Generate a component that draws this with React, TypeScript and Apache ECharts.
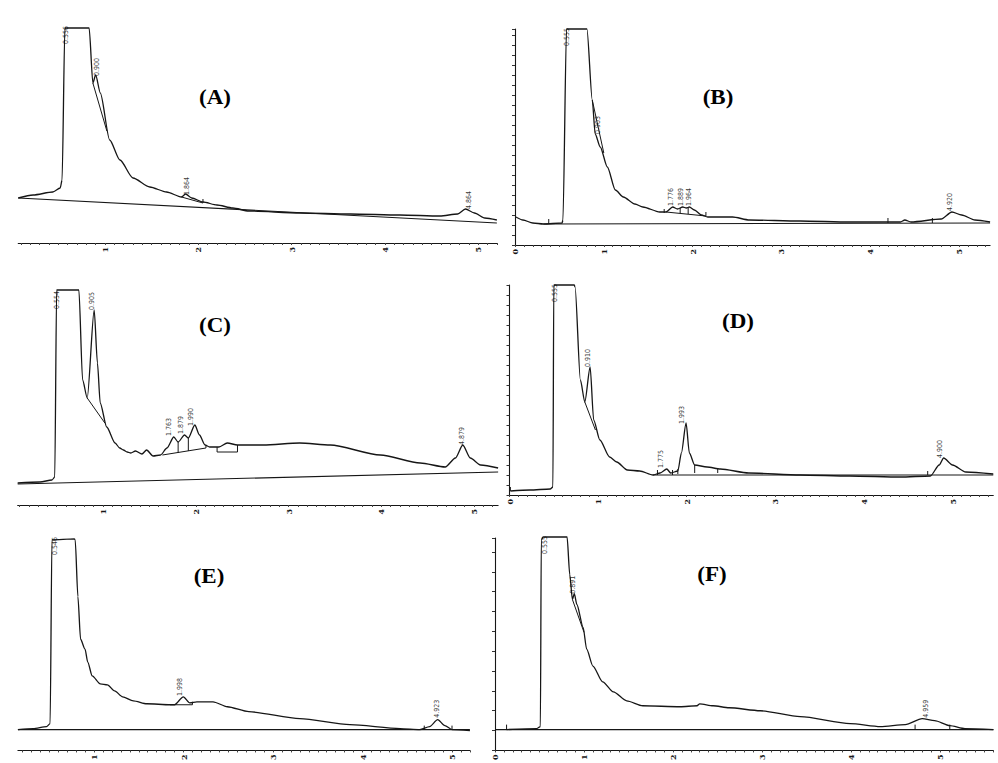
import React, { useEffect, useRef } from "react";
import * as echarts from "echarts";

// ---------- tick labels ----------
const ticksA = [1, 2, 3, 4, 5];
const ticksB = [0, 1, 2, 3, 4, 5];
const ticksC = [1, 2, 3, 4, 5];
const ticksD = [0, 1, 2, 3, 4, 5];
const ticksE = [1, 2, 3, 4, 5];
const ticksF = [0, 1, 2, 3, 4, 5];

// ---------- traces: [time (min), signal] ----------
const traceA = [
  [0.07, 45], [0.23, 48], [0.44, 51], [0.52, 55], [0.54, 63], [0.57, 215], [0.83, 215],
  [0.87, 160], [0.9, 168], [0.95, 150], [1.05, 103], [1.16, 83], [1.3, 65], [1.48, 56],
  [1.66, 51], [1.82, 46], [1.864, 49], [1.93, 45], [2.05, 41], [2.2, 38], [2.37, 35],
  [2.54, 32], [3.09, 30], [3.63, 29], [4.16, 28], [4.59, 27], [4.78, 29], [4.864, 34],
  [4.96, 30], [5.07, 25], [5.2, 23],
];
const traceB = [
  [0.01, 28], [0.09, 25], [0.2, 22], [0.32, 21], [0.53, 22], [0.54, 25], [0.58, 216],
  [0.81, 216], [0.87, 145], [0.903, 111], [0.96, 98], [1.04, 78], [1.13, 55], [1.22, 48],
  [1.35, 41], [1.44, 38], [1.63, 33], [1.7, 33], [1.776, 38], [1.83, 36], [1.889, 38],
  [1.93, 37], [1.964, 38], [2.02, 35], [2.1, 30], [2.17, 28], [2.45, 28], [2.64, 25],
  [3.21, 24], [3.77, 23], [4.22, 23], [4.34, 23], [4.39, 25], [4.46, 23], [4.8, 26],
  [4.92, 33], [5.03, 30], [5.18, 25], [5.35, 23],
];
const traceC = [
  [0.08, 22], [0.32, 23], [0.45, 25], [0.48, 28], [0.5, 215], [0.74, 215], [0.78, 125],
  [0.83, 107], [0.905, 195], [0.94, 142], [0.97, 102], [1.04, 78], [1.13, 62], [1.18, 57],
  [1.22, 55], [1.26, 53], [1.3, 52], [1.35, 54], [1.42, 51], [1.47, 55], [1.54, 49],
  [1.62, 50], [1.69, 57], [1.763, 68], [1.81, 63], [1.879, 70], [1.92, 67], [1.99, 80],
  [2.04, 70], [2.1, 60], [2.15, 58], [2.25, 58], [2.34, 62], [2.45, 60], [2.73, 60],
  [3.12, 62], [3.45, 60], [3.99, 50], [4.42, 42], [4.69, 38], [4.8, 47], [4.879, 60],
  [4.96, 47], [5.07, 40], [5.26, 37],
];
const traceD = [
  [0.01, 4], [0.23, 5], [0.46, 6], [0.49, 8], [0.5, 210], [0.73, 210], [0.74, 208],
  [0.8, 115], [0.85, 93], [0.91, 128], [0.95, 75], [1.02, 55], [1.13, 38], [1.21, 33],
  [1.33, 25], [1.47, 24], [1.62, 20], [1.7, 22], [1.775, 26], [1.82, 22], [1.9, 24],
  [1.94, 42], [1.993, 72], [2.03, 42], [2.09, 30], [2.23, 28], [2.38, 26], [2.7, 22],
  [3.28, 20], [3.84, 19], [4.41, 18], [4.75, 19], [4.85, 30], [4.9, 37], [5.0, 30],
  [5.15, 23], [5.46, 21],
];
const traceE = [
  [0.15, 21], [0.32, 22], [0.47, 24], [0.51, 27], [0.53, 212], [0.78, 213], [0.79, 212],
  [0.82, 155], [0.85, 112], [0.9, 102], [0.93, 89], [0.98, 75], [1.07, 67], [1.15, 66],
  [1.23, 60], [1.32, 54], [1.44, 50], [1.59, 47], [1.85, 46], [1.9, 46], [1.998, 54],
  [2.07, 48], [2.15, 49], [2.33, 49], [2.49, 44], [2.73, 39], [3.3, 32], [3.86, 26],
  [4.42, 22], [4.64, 21], [4.75, 24], [4.84, 31], [4.92, 25], [5.0, 21], [5.2, 20],
];
const traceF = [
  [0.13, 21], [0.47, 22], [0.51, 24], [0.52, 212], [0.54, 215], [0.81, 215], [0.84, 177],
  [0.87, 152], [0.891, 158], [0.92, 147], [0.99, 124], [1.03, 102], [1.1, 85], [1.21, 69],
  [1.33, 59], [1.48, 50], [1.66, 45], [2.08, 44], [2.27, 45], [2.3, 47], [2.45, 45],
  [2.63, 43], [2.98, 40], [3.43, 34], [3.99, 27], [4.33, 24], [4.61, 26], [4.8, 32],
  [4.94, 30], [5.11, 25], [5.28, 22], [5.6, 21],
];

// ---------- integration baselines ----------
const baseA = [[0.07, 45], [5.2, 20]];
const baseB = [[0.32, 21], [5.35, 22]];
const baseC = [[0.08, 21], [5.26, 33]];
const baseD = [[1.62, 20], [5.46, 20]];
const baseE = [[0.15, 21], [5.2, 21]];
const baseF = [[0.0, 21], [5.6, 21]];

// ---------- integration marks (skims, drop lines, event ticks) ----------
const marksA = [
  [[0.87, 160], [1.02, 112]],
  [[1.82, 46], [2.05, 40]],
  [[2.05, 40], [2.05, 44]],
];
const marksB = [
  [[0.38, 21], [0.38, 26]],
  [[0.87, 145], [1.0, 92]],
  [[1.68, 32], [1.68, 36]],
  [[1.7, 33], [2.15, 29]],
  [[1.86, 32], [1.86, 37]],
  [[1.95, 31], [1.95, 37]],
  [[2.15, 29], [2.15, 33]],
  [[4.2, 22], [4.2, 27]],
  [[4.7, 22], [4.7, 27]],
];
const marksC = [
  [[0.83, 107], [1.02, 82]],
  [[1.64, 50], [2.11, 57]],
  [[1.81, 52], [1.81, 63]],
  [[1.92, 54], [1.92, 67]],
  [[2.11, 57], [2.11, 59]],
  [[2.23, 58], [2.23, 53], [2.45, 53], [2.45, 60]],
];
const marksD = [
  [[0.01, 4], [0.01, 8]],
  [[0.85, 93], [0.97, 65]],
  [[1.67, 20], [1.67, 25]],
  [[1.84, 20], [1.84, 25]],
  [[1.9, 21], [1.9, 26]],
  [[2.09, 22], [2.09, 30]],
  [[2.35, 22], [2.35, 27]],
  [[4.72, 20], [4.72, 24]],
];
const marksE = [
  [[1.85, 46], [2.1, 46]],
  [[2.1, 46], [2.1, 49]],
  [[4.69, 21], [4.69, 25]],
  [[5.0, 21], [5.0, 25]],
];
const marksF = [
  [[0.13, 21], [0.13, 26]],
  [[0.87, 152], [1.0, 119]],
  [[4.72, 21], [4.72, 26]],
  [[5.11, 21], [5.11, 26]],
];

// ---------- peak labels: [time, signal, text] ----------
const peaksA = [[0.58, 208, "0.556"], [0.915, 176, "0.900"], [1.88, 57, "1.864"], [4.9, 43, "4.864"]];
const peaksB = [[0.585, 208, "0.555"], [0.93, 120, "0.903"], [1.755, 48, "1.776"], [1.87, 48, "1.889"], [1.96, 48, "1.964"], [4.9, 43, "4.920"]];
const peaksC = [[0.5, 205, "0.554"], [0.88, 204, "0.905"], [1.71, 78, "1.763"], [1.84, 80, "1.879"], [1.95, 88, "1.990"], [4.87, 69, "4.879"]];
const peaksD = [[0.51, 202, "0.555"], [0.885, 137, "0.910"], [1.71, 36, "1.775"], [1.95, 80, "1.993"], [4.86, 46, "4.900"]];
const peaksE = [[0.56, 206, "0.546"], [1.96, 64, "1.998"], [4.83, 42, "4.923"]];
const peaksF = [[0.56, 207, "0.555"], [0.88, 167, "0.891"], [4.84, 42, "4.959"]];

const titles = ["(A)", "(B)", "(C)", "(D)", "(E)", "(F)"];

// ---------- layout (pixels) ----------
const panels = [
  { x0: 11.7, ppm: 93.3, tmin: 0.07, tmax: 5.2, axisY: 243, yMax: 220, yAxis: false, yInt: 10, ticks: ticksA, trace: traceA, base: baseA, marks: marksA, peaks: peaksA, tx: 215, ty: 98 },
  { x0: 515, ppm: 88.8, tmin: 0, tmax: 5.35, axisY: 245, yMax: 216, yAxis: true, yInt: 10, ticks: ticksB, trace: traceB, base: baseB, marks: marksB, peaks: peaksB, tx: 718, ty: 98 },
  { x0: 10.25, ppm: 92.75, tmin: 0.08, tmax: 5.26, axisY: 505, yMax: 220, yAxis: false, yInt: 10, ticks: ticksC, trace: traceC, base: baseC, marks: marksC, peaks: peaksC, tx: 215, ty: 326 },
  { x0: 509.5, ppm: 88.6, tmin: 0, tmax: 5.46, axisY: 495, yMax: 210, yAxis: true, yInt: 10, ticks: ticksD, trace: traceD, base: baseD, marks: marksD, peaks: peaksD, tx: 738, ty: 322 },
  { x0: 4.5, ppm: 89.5, tmin: 0.15, tmax: 5.2, axisY: 752, yMax: 220, yAxis: false, yInt: 10, ticks: ticksE, trace: traceE, base: baseE, marks: marksE, peaks: peaksE, tx: 209, ty: 577 },
  { x0: 495, ppm: 89, tmin: 0, tmax: 5.6, axisY: 752, yMax: 214, yAxis: true, yInt: 20, ticks: ticksF, trace: traceF, base: baseF, marks: marksF, peaks: peaksF, tx: 712, ty: 575 },
];

const INK = "#161616";

function minorTicks(a: number, b: number) {
  const out: number[] = [];
  for (let v = Math.ceil(a * 10); v <= Math.floor(b * 10); v++) out.push(v / 10);
  return out;
}

function buildOption() {
  const grid: any[] = [];
  const xAxis: any[] = [];
  const yAxis: any[] = [];
  const series: any[] = [];
  const graphic: any[] = [];
  panels.forEach((p, i) => {
    grid.push({
      left: p.x0 + p.tmin * p.ppm,
      top: p.axisY - p.yMax,
      width: (p.tmax - p.tmin) * p.ppm,
      height: p.yMax,
      containLabel: false,
    });
    xAxis.push({
      type: "value",
      gridIndex: i,
      min: p.tmin,
      max: p.tmax,
      splitLine: { show: false },
      axisLine: { show: true, onZero: false, lineStyle: { color: INK, width: 1.1 } },
      axisTick: { show: true, customValues: minorTicks(p.tmin, p.tmax), length: 2, lineStyle: { color: "#444", width: 1 } },
      axisLabel: {
        show: true,
        customValues: p.ticks,
        rotate: 90,
        fontSize: 8,
        margin: 4,
        color: INK,
        fontFamily: "DejaVu Serif",
        fontWeight: "bold",
      },
    });
    yAxis.push({
      type: "value",
      gridIndex: i,
      min: 0,
      max: p.yMax,
      interval: p.yInt,
      show: p.yAxis,
      splitLine: { show: false },
      axisLine: { show: true, onZero: false, lineStyle: { color: INK, width: 1.1 } },
      axisTick: { show: true, length: 3, lineStyle: { color: "#333", width: 1 } },
      axisLabel: { show: false },
    });
    series.push({
      type: "line",
      xAxisIndex: i,
      yAxisIndex: i,
      data: p.trace,
      showSymbol: false,
      symbol: "none",
      clip: false,
      smooth: 0.25,
      smoothMonotone: "x",
      lineStyle: { color: INK, width: 1.3 },
      z: 3,
    });
    series.push({
      type: "line",
      xAxisIndex: i,
      yAxisIndex: i,
      data: p.base,
      showSymbol: false,
      symbol: "none",
      clip: false,
      lineStyle: { color: INK, width: 1.1 },
      z: 2,
    });
    p.marks.forEach((m) => {
      series.push({
        type: "line",
        xAxisIndex: i,
        yAxisIndex: i,
        data: m,
        showSymbol: false,
        symbol: "none",
        clip: false,
        lineStyle: { color: INK, width: 1 },
        z: 2,
      });
    });
    series.push({
      type: "scatter",
      xAxisIndex: i,
      yAxisIndex: i,
      symbolSize: 1,
      itemStyle: { color: "rgba(0,0,0,0)" },
      data: p.peaks.map((k) => ({ value: [k[0], k[1]], name: k[2] })),
      label: {
        show: true,
        position: "inside",
        formatter: "{b}",
        rotate: 90,
        fontSize: 7,
        color: "#000",
        textBorderWidth: 0,
        fontFamily: "DejaVu Sans Condensed",
      },
      z: 4,
    });
    graphic.push({
      type: "text",
      x: p.tx,
      y: p.ty,
      scaleX: 1.15,
      style: {
        text: titles[i],
        fill: "#000",
        font: "bold 20px 'Liberation Serif'",
        textAlign: "center",
        textVerticalAlign: "middle",
      },
    });
  });
  return {
    animation: false,
    backgroundColor: "#ffffff",
    grid,
    xAxis,
    yAxis,
    series,
    graphic,
  };
}

export default function App() {
  const ref = useRef<HTMLDivElement>(null);
  useEffect(() => {
    if (!ref.current) return;
    const chart = echarts.init(ref.current, null, { renderer: "svg" });
    chart.setOption(buildOption() as any);
    return () => chart.dispose();
  }, []);
  return (
    <div
      ref={ref}
      style={{ position: "fixed", left: 0, top: 0, width: 998, height: 763, background: "#fff" }}
    />
  );
}
